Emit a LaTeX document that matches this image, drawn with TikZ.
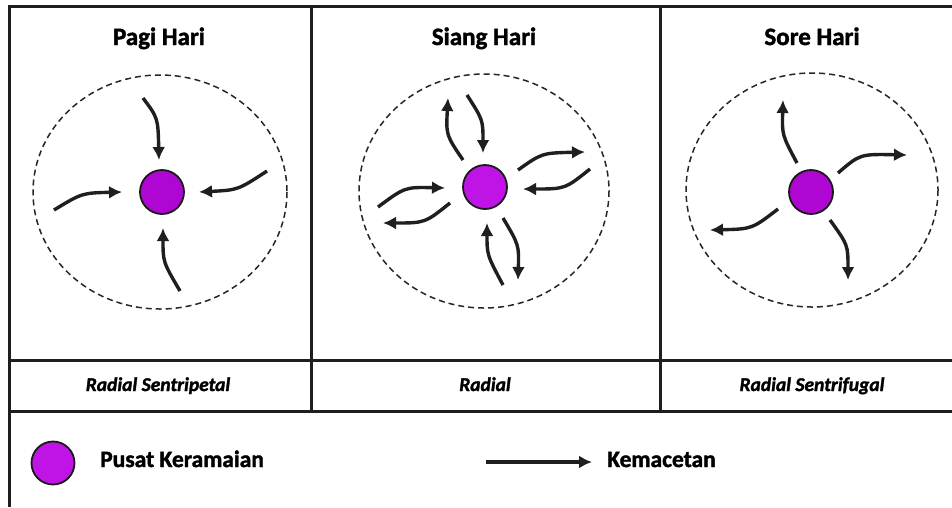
\documentclass[tikz,border=0pt]{standalone}
\usepackage{fontspec}
\setmainfont{Carlito}
\newfontfamily\heavyfont[FakeBold=1.6]{Carlito}
\usetikzlibrary{arrows.meta}
\definecolor{hubpurple}{RGB}{176,6,212}
\definecolor{hubpurpleB}{RGB}{192,20,230}
\definecolor{framecol}{RGB}{30,30,30}
\tikzset{
  frameline/.style={line width=3pt, draw=framecol},
  ring/.style={draw=black!85, line width=1.5pt, dash pattern=on 6pt off 4pt},
  hub/.style={circle, draw=black!90, line width=1.8pt, fill=hubpurple, minimum size=44pt, inner sep=0pt},
  flow/.style={line width=3.4pt, draw=black!88, -{Latex[length=13pt,width=13pt]}},
  title/.style={font=\heavyfont\bfseries\fontsize{25}{25}\selectfont, anchor=base, inner sep=0pt},
  kind/.style={font=\heavyfont\bfseries\itshape\fontsize{19.5}{19.5}\selectfont, anchor=base, inner sep=0pt},
  legtext/.style={font=\heavyfont\bfseries\fontsize{23.5}{23.5}\selectfont, anchor=base west, inner sep=0pt}
}
\begin{document}
\begin{tikzpicture}[x=1pt, y=-1pt]
\useasboundingbox (0,0) rectangle (952,507);
\fill[white] (0,0) rectangle (952,507);
% frame
\draw[frameline] (952,6) -- (9,6) -- (9,507);
\draw[frameline] (9,360) -- (952,360);
\draw[frameline] (9,411) -- (952,411);
\draw[frameline] (311,6) -- (311,411);
\draw[frameline] (660,6) -- (660,411);
% titles
\node[title] (t1) at (159,45) {Pagi Hari};
\node[title] (t2) at (484,45) {Siang Hari};
\node[title] (t3) at (812,45) {Sore Hari};
% kind labels
\node[kind] (k1) at (158,391) {Radial Sentripetal};
\node[kind] (k2) at (485,391) {Radial};
\node[kind] (k3) at (812,391) {Radial Sentrifugal};
% dashed rings
\draw[ring] (160,192) ellipse [x radius=127, y radius=117];
\draw[ring] (484,191) ellipse [x radius=125, y radius=117];
\draw[ring] (812,190) ellipse [x radius=126, y radius=117];
% hubs
\node[hub] (h1) at (162,192) {};
\node[hub, fill=hubpurpleB] (h2) at (485,187) {};
\node[hub] (h3) at (811,192) {};
% panel 1 coordinates (inward)
\coordinate (a1s) at (143,98);  \coordinate (a1e) at (159,160);
\coordinate (a2s) at (267,171); \coordinate (a2e) at (199,192);
\coordinate (a3s) at (180,291); \coordinate (a3e) at (163,228);
\coordinate (a4s) at (54,210);  \coordinate (a4e) at (122,192);
\draw[flow] (a1s) .. controls (158,118) .. (a1e);
\draw[flow] (a2s) .. controls (238,190) .. (a2e);
\draw[flow] (a3s) .. controls (163,262) .. (a3e);
\draw[flow] (a4s) .. controls (82,193) .. (a4e);
% panel 2 coordinates (both ways)
\coordinate (b1s) at (463,160); \coordinate (b1e) at (448,98);
\coordinate (b2s) at (467,95);  \coordinate (b2e) at (483,153);
\coordinate (b3s) at (518,170); \coordinate (b3e) at (585,152);
\coordinate (b4s) at (590,169); \coordinate (b4e) at (523,189);
\coordinate (b5s) at (503,285); \coordinate (b5e) at (487,223);
\coordinate (b6s) at (503,218); \coordinate (b6e) at (518,280);
\coordinate (b7s) at (378,207); \coordinate (b7e) at (445,188);
\coordinate (b8s) at (450,203); \coordinate (b8e) at (383,223);
\draw[flow] (b1s) .. controls (446,135) .. (b1e);
\draw[flow] (b2s) .. controls (483,120) .. (b2e);
\draw[flow] (b3s) .. controls (542,153) .. (b3e);
\draw[flow] (b4s) .. controls (565,189) .. (b4e);
\draw[flow] (b5s) .. controls (487,255) .. (b5e);
\draw[flow] (b6s) .. controls (519,245) .. (b6e);
\draw[flow] (b7s) .. controls (405,187) .. (b7e);
\draw[flow] (b8s) .. controls (425,223) .. (b8e);
% panel 3 coordinates (outward)
\coordinate (c1s) at (797,163); \coordinate (c1e) at (783,100);
\coordinate (c2s) at (838,173); \coordinate (c2e) at (907,155);
\coordinate (c3s) at (830,220); \coordinate (c3e) at (848,280);
\coordinate (c4s) at (778,209); \coordinate (c4e) at (710,230);
\draw[flow] (c1s) .. controls (782,135) .. (c1e);
\draw[flow] (c2s) .. controls (860,154) .. (c2e);
\draw[flow] (c3s) .. controls (848,245) .. (c3e);
\draw[flow] (c4s) .. controls (752,229) .. (c4e);
% legend
\node[hub, fill=hubpurpleB, minimum size=43pt] (lg) at (53,463) {};
\node[legtext] (lgt) at (100,467) {Pusat Keramaian};
\coordinate (ls) at (486,462);
\node[legtext] (lkt) at (607,467) {Kemacetan};
\coordinate (le) at (592,462);
\draw[flow] (ls) -- (le);
\end{tikzpicture}
\end{document}
